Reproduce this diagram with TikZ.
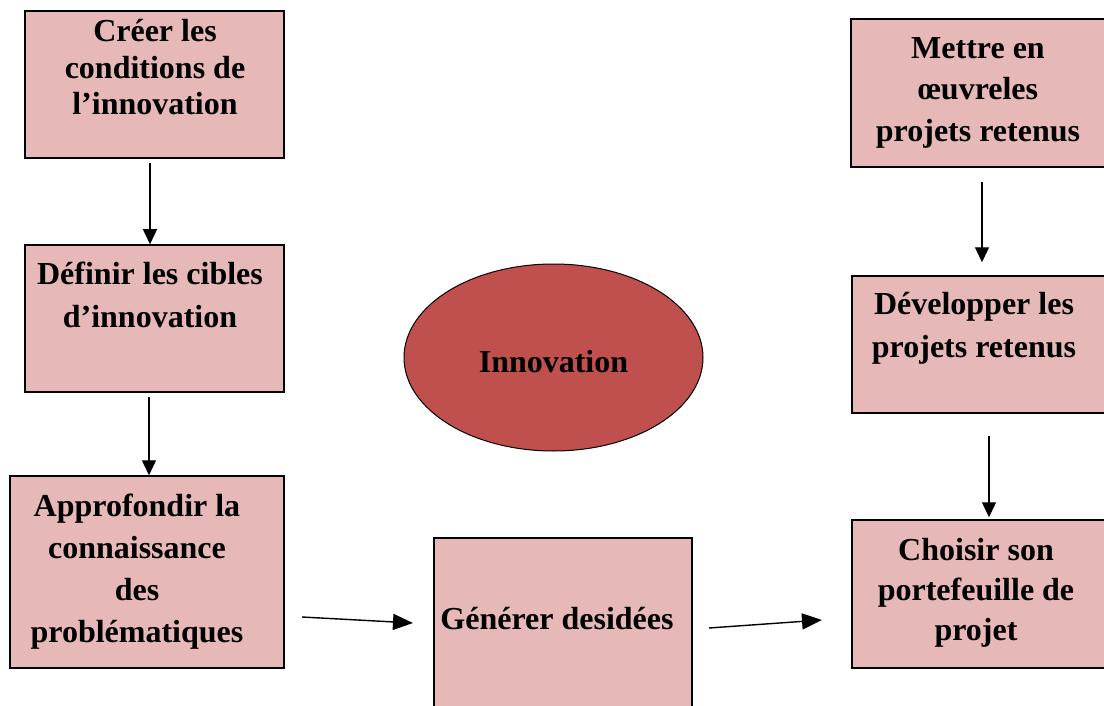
\documentclass[tikz,border=0pt]{standalone}
\usepackage{fontspec}
\setmainfont{Liberation Serif}
\usetikzlibrary{arrows.meta,shapes.geometric}

\definecolor{boxpink}{HTML}{E6B8B7}
\definecolor{ovalred}{HTML}{C0504D}

\begin{document}
\begin{tikzpicture}[x=0.5pt, y=-0.5pt,
  bloc/.style={draw, fill=boxpink, line width=0.75pt, inner sep=0pt},
  texte/.style={anchor=base, align=center, inner sep=0pt, font=\bfseries\fontsize{16}{21}\selectfont},
  fleche/.style={-{Triangle[length=7.5pt,width=7pt]}, line width=0.7pt},
  flecheh/.style={-{Triangle[length=10pt,width=8pt]}, line width=0.7pt}]

\useasboundingbox (0,0) rectangle (1104,706);

% colonne de gauche
\node[bloc, minimum width=129.5pt, minimum height=73.5pt] (creer) at (154.5,84.5) {};
\node[bloc, minimum width=129.5pt, minimum height=73.5pt] (definir) at (154.5,318.5) {};
\node[bloc, minimum width=137pt, minimum height=96pt] (approf) at (147,572) {};

% (base = derniere ligne)
\node[texte, font=\bfseries\fontsize{16}{18.25}\selectfont] (creert) at (155,115) {Créer les\\conditions de\\l’innovation};
\node[texte] (definirt) at (150,327) {Définir les cibles\\d’innovation};
\node[texte] (approft) at (137,642) {Approfondir la\\connaissance\\des\\problématiques};

% centre
\node[draw, ellipse, fill=ovalred, line width=0.5pt, inner sep=0pt,
      minimum width=149.5pt, minimum height=93.5pt, text height=14.5pt, text depth=0pt,
      font=\bfseries\fontsize{16}{21}\selectfont] (innov) at (553.5,357.5) {Innovation};

\node[bloc, minimum width=129pt, minimum height=91pt] (generer) at (563,629) {};
\node[texte] (generert) at (557,629) {Générer desidées};

% colonne de droite
\node[bloc, minimum width=132pt, minimum height=74pt] (mettre) at (983,93) {};
\node[bloc, minimum width=131.5pt, minimum height=68.5pt] (develop) at (983.5,344.5) {};
\node[bloc, minimum width=131.5pt, minimum height=74pt] (choisir) at (983.5,594) {};

\node[texte] (mettret) at (978,142) {Mettre en\\œuvreles\\projets retenus};
\node[texte] (developt) at (974,357) {Développer les\\projets retenus};
\node[texte, font=\bfseries\fontsize{16}{20}\selectfont] (choisirt) at (976,640) {Choisir son\\portefeuille de\\projet};

% fleches
\draw[fleche, shorten <=2pt] ([xshift=-2.25pt]creer.south) -- ([xshift=-2.25pt]creer.south |- definir.north);
\draw[fleche, shorten <=2pt] ([xshift=-2.75pt]definir.south) -- ([xshift=-2.75pt]definir.south |- approf.north);
\draw[fleche, shorten <=7pt, shorten >=6.5pt] ([xshift=-0.5pt]mettre.south) -- ([xshift=-0.5pt]mettre.south |- develop.north);
\draw[fleche, shorten <=11pt, shorten >=1pt] ([xshift=2.75pt]develop.south) -- ([xshift=2.75pt]develop.south |- choisir.north);

\coordinate (g1) at (302,617);
\coordinate (g2) at (413,623);
\coordinate (d1) at (709,628);
\coordinate (d2) at (822,620);
\draw[flecheh] (g1) -- (g2);
\draw[flecheh] (d1) -- (d2);

\end{tikzpicture}
\end{document}
